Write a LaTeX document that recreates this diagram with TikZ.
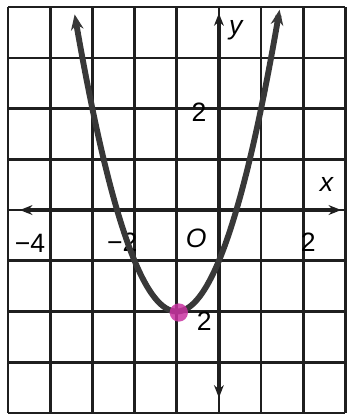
\documentclass[tikz,border=0pt]{standalone}
\usepackage{fontspec}
\setsansfont{Liberation Sans}
\usetikzlibrary{arrows.meta}
\definecolor{dotpink}{RGB}{200,50,160}
\begin{document}
\begin{tikzpicture}[x=1.06cm, y=1.275cm,
  gridline/.style={black!88, line width=1.9pt},
  axis/.style={black!88, line width=2.3pt, {Stealth[length=9pt,width=7pt]}-{Stealth[length=9pt,width=7pt]}},
  curve/.style={black!78, line width=4.2pt, {Stealth[length=11pt,width=9pt]}-{Stealth[length=11pt,width=9pt]}},
  lbl/.style={font=\sffamily\fontsize{19}{20}\selectfont, inner sep=1pt},
  vdot/.style={circle, fill=dotpink, minimum size=0.46cm, inner sep=0pt, opacity=0.85}]
\useasboundingbox (-5.19,-4.04) rectangle (3.04,4.14);
% grid
\foreach \gx in {-5,...,3}
  \draw[gridline] (\gx,-4) -- (\gx,4);
\foreach \gy in {-4,...,4}
  \draw[gridline] (-5,\gy) -- (3,\gy);
% axes
\coordinate (xl) at (-4.72,0);
\coordinate (xr) at (2.9,0);
\coordinate (yb) at (0,-3.7);
\coordinate (yt) at (0,3.88);
\draw[axis] (xl) -- (xr);
\draw[axis] (yb) -- (yt);
% axis labels
\node[lbl] (ylab) at (0.4,3.55) {\itshape y};
\node[lbl] (xlab) at (2.55,0.5) {\itshape x};
\node[lbl] (y2) at (-0.47,1.92) {2};
\node[lbl] (ym2) at (-0.35,-2.2) {2};
\node[lbl] (xm4) at (-4.48,-0.66) {−4};
\node[lbl] (xm2) at (-2.29,-0.64) {−2};
\node[lbl] (orig) at (-0.54,-0.55) {\itshape O};
\node[lbl] (x2) at (2.12,-0.64) {2};
% parabola y = (x+1)^2 - 2
\draw[curve] plot[domain=-3.42:1.44, samples=80, smooth] (\x, {(\x+1)^2-2});
% vertex
\node[vdot] (vtx) at (-0.95,-2.02) {};
\end{tikzpicture}
\end{document}
